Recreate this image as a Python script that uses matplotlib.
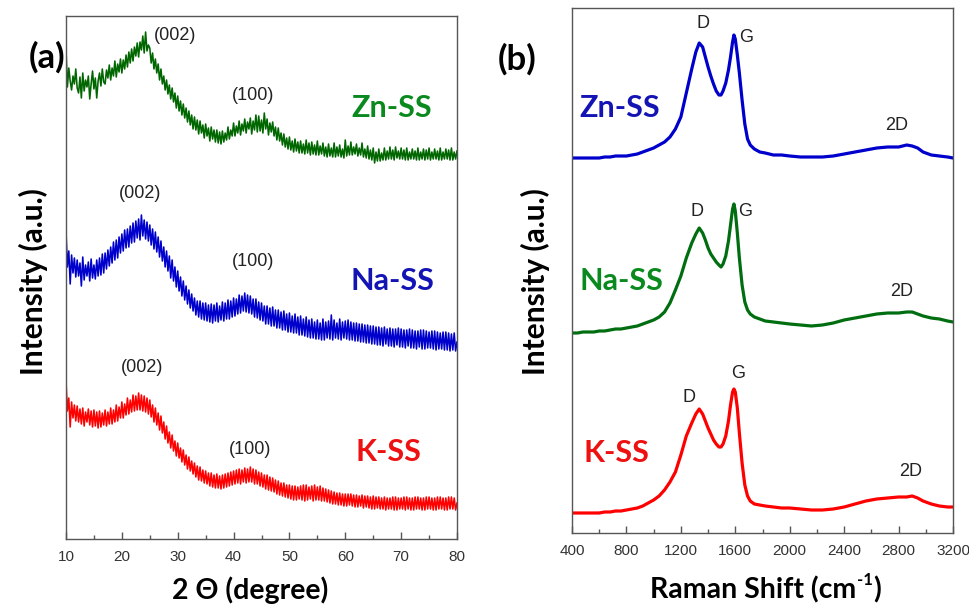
import numpy as np
import matplotlib
matplotlib.use("Agg")
import matplotlib.pyplot as plt

# ---- XRD data: 2 theta from 10 to 80 in 0.25 deg steps (offset arbitrary units) ----
two_theta = np.arange(10, 80.001, 0.25)

xrd_zn = [490, 452, 471, 458, 449, 463, 455, 470, 451, 446, 462, 441, 466, 448, 459, 452,
          463, 440, 455, 468, 450, 461, 441, 458, 466, 453, 470, 457, 455, 469, 461, 474,
          459, 471, 463, 478, 462, 475, 467, 480, 466, 479, 470, 484, 472, 487, 476, 490,
          478, 492, 483, 496, 482, 497, 489, 503, 486, 507, 488, 494, 491, 476, 486, 470,
          480, 466, 475, 459, 470, 455, 463, 449, 459, 445, 454, 440, 451, 437, 446, 431,
          443, 428, 438, 424, 435, 421, 431, 417, 428, 414, 424, 410, 422, 409, 419, 405,
          418, 406, 414, 401, 415, 403, 411, 398, 412, 400, 409, 397, 409, 396, 407, 395,
          408, 397, 406, 399, 412, 400, 409, 403, 416, 403, 413, 406, 418, 404, 415, 408,
          420, 406, 417, 410, 421, 405, 418, 409, 424, 407, 423, 408, 419, 406, 426, 410,
          420, 404, 416, 407, 417, 403, 412, 399, 411, 398, 406, 394, 405, 392, 401, 390,
          402, 389, 398, 387, 400, 388, 397, 386, 398, 386, 395, 385, 399, 386, 396, 384,
          397, 385, 394, 384, 398, 384, 393, 385, 396, 383, 392, 382, 395, 383, 391, 382,
          396, 382, 392, 383, 394, 382, 390, 381, 399, 383, 393, 384, 397, 384, 392, 385,
          395, 383, 391, 384, 396, 382, 390, 381, 393, 380, 389, 379, 391, 376, 387, 378,
          390, 378, 386, 379, 391, 379, 388, 380, 392, 380, 389, 379, 392, 381, 388, 380,
          391, 380, 389, 379, 391, 379, 387, 380, 390, 380, 388, 379, 391, 379, 387, 380,
          390, 379, 389, 380, 391, 379, 387, 380, 390, 380, 388, 379, 391, 379, 387, 380,
          390, 380, 389, 379, 391, 379, 387, 380, 388]

xrd_na = [308, 272, 288, 255, 284, 266, 281, 262, 279, 263, 276, 253, 282, 259, 274, 263,
          277, 258, 280, 261, 274, 260, 279, 263, 281, 264, 285, 266, 286, 270, 289, 273,
          292, 276, 297, 279, 299, 281, 302, 286, 305, 288, 309, 291, 310, 292, 313, 296,
          316, 297, 318, 301, 320, 299, 324, 303, 319, 300, 317, 298, 314, 294, 310, 290,
          307, 287, 302, 282, 298, 278, 292, 272, 288, 268, 283, 261, 279, 258, 272, 252,
          268, 248, 262, 243, 258, 239, 253, 235, 249, 231, 245, 228, 241, 224, 238, 222,
          238, 220, 236, 219, 236, 218, 234, 217, 235, 216, 234, 218, 236, 217, 233, 219,
          237, 218, 236, 220, 239, 220, 238, 222, 241, 223, 240, 225, 244, 226, 243, 228,
          246, 227, 244, 226, 243, 225, 240, 222, 240, 221, 237, 219, 236, 218, 233, 215,
          233, 215, 231, 213, 232, 213, 229, 211, 229, 211, 227, 209, 228, 209, 225, 207,
          226, 207, 223, 206, 225, 206, 222, 204, 223, 204, 220, 203, 222, 202, 219, 201,
          220, 201, 217, 200, 219, 200, 216, 199, 220, 199, 217, 201, 218, 200, 224, 199,
          219, 201, 216, 200, 220, 199, 217, 201, 218, 200, 219, 199, 217, 199, 216, 198,
          216, 198, 215, 197, 215, 197, 214, 196, 214, 196, 213, 195, 213, 195, 212, 194,
          212, 194, 211, 193, 212, 195, 210, 193, 211, 193, 210, 192, 210, 194, 211, 192,
          210, 192, 209, 191, 209, 193, 210, 191, 209, 191, 208, 190, 208, 192, 209, 190,
          209, 190, 208, 191, 207, 191, 208, 190, 208, 189, 207, 190, 206, 190, 207, 189,
          207, 189, 206, 188, 205, 189, 206, 188, 197]

xrd_k = [158, 128, 141, 112, 137, 121, 134, 118, 133, 117, 130, 115, 131, 113, 127, 117,
         130, 114, 128, 112, 129, 113, 127, 111, 128, 112, 126, 114, 129, 113, 127, 115,
         131, 115, 129, 117, 134, 118, 132, 121, 137, 121, 135, 124, 141, 125, 139, 127,
         144, 128, 143, 129, 146, 129, 144, 128, 143, 127, 141, 125, 139, 122, 134, 117,
         131, 114, 126, 109, 123, 106, 117, 100, 113, 96, 107, 91, 104, 88, 98, 83,
         96, 81, 91, 77, 89, 74, 84, 70, 82, 68, 78, 65, 76, 62, 73, 59,
         72, 58, 69, 56, 68, 55, 66, 53, 66, 52, 64, 51, 65, 51, 63, 50,
         64, 51, 65, 52, 66, 53, 67, 54, 68, 55, 69, 56, 70, 55, 69, 57,
         71, 56, 70, 57, 72, 57, 70, 55, 69, 55, 67, 53, 66, 52, 64, 50,
         64, 49, 62, 48, 61, 47, 59, 45, 58, 44, 56, 43, 56, 42, 54, 41,
         54, 40, 53, 39, 53, 39, 52, 40, 53, 39, 54, 38, 54, 39, 52, 40,
         53, 38, 54, 39, 52, 39, 53, 38, 51, 38, 50, 37, 49, 36, 48, 35,
         47, 35, 46, 34, 46, 34, 45, 33, 45, 33, 45, 34, 45, 33, 44, 32,
         44, 32, 43, 33, 44, 31, 43, 32, 43, 31, 42, 30, 43, 30, 42, 31,
         42, 30, 41, 30, 42, 29, 41, 30, 41, 30, 42, 29, 42, 29, 41, 30,
         41, 30, 42, 29, 42, 30, 41, 29, 41, 29, 42, 30, 42, 30, 41, 29,
         41, 29, 42, 30, 42, 30, 41, 29, 41, 29, 42, 30, 42, 30, 41, 29,
         41, 29, 42, 30, 42, 30, 41, 29, 36]

# ---- Raman data ----
raman_x = [400, 440, 480, 520, 560, 600, 640, 680, 720, 760, 800, 840, 880, 920, 960,
           1000, 1040, 1080, 1120, 1160, 1200, 1240, 1280,
           1310, 1335, 1360, 1380, 1400, 1420, 1440, 1460, 1480, 1495,
           1510, 1530, 1550, 1565, 1580, 1590, 1600, 1615, 1630, 1650,
           1670, 1690, 1710, 1740, 1780, 1820, 1880, 1940, 2000, 2080,
           2160, 2240, 2320, 2400, 2480, 2560, 2640, 2720, 2800, 2860,
           2900, 2940, 2980, 3040, 3100, 3160, 3200]
raman_zn = [375, 375, 375, 375, 375, 375, 376, 376, 377, 377, 377, 378, 379, 381, 383,
            385, 388, 391, 396, 404, 416, 440, 464,
            481, 490, 486, 476, 466, 457, 449, 442, 438, 438,
            442, 450, 463, 476, 491, 498, 494, 478, 460, 433,
            409, 394, 388, 384, 381, 380, 378, 378, 377, 376,
            376, 376, 377, 379, 381, 383, 385, 386, 386, 388,
            387, 385, 381, 378, 377, 376, 375]
raman_na = [200, 200, 201, 201, 201, 202, 202, 203, 204, 204, 205, 206, 207, 209, 211,
            213, 216, 221, 230, 243, 257, 275, 290,
            299, 305, 300, 293, 285, 279, 275, 271, 268, 266,
            269, 277, 292, 308, 324, 329, 322, 300, 275, 248,
            231, 223, 219, 216, 214, 212, 211, 210, 209, 208,
            207, 208, 210, 213, 215, 217, 219, 220, 220, 221,
            221, 219, 217, 215, 214, 212, 211]
raman_k = [20, 20, 20, 20, 20, 20, 21, 21, 22, 22, 23, 24, 25, 27, 30,
           33, 37, 43, 51, 61, 78, 97, 110,
           119, 124, 119, 112, 105, 99, 93, 89, 86, 86,
           89, 97, 112, 128, 141, 144, 141, 125, 100, 70,
           48, 37, 32, 29, 28, 27, 26, 25, 25, 24,
           23, 23, 24, 26, 29, 32, 34, 35, 36, 36,
           37, 35, 32, 29, 27, 26, 26]

W, H = 969, 607
fig = plt.figure(figsize=(W / 100, H / 100), dpi=100)


def px(x, y):
    return x / W, 1 - y / H


tick_font = dict(family="Liberation Sans", size=11, color="#333333")
lab_font = dict(family="Lato", weight="bold", size=20.5)

# ---------- (a) XRD ----------
ax1 = fig.add_axes([66 / W, 1 - 539 / H, 391 / W, 523 / H])
ax1.plot(two_theta, xrd_zn, color="#006600", lw=1.15)
ax1.plot(two_theta, xrd_na, color="#0000cc", lw=1.15)
ax1.plot(two_theta, xrd_k, color="#ff0000", lw=1.15)
ax1.set_xlim(10, 80)
ax1.set_ylim(0, 523)
ax1.set_xticks(np.arange(10, 81, 10))
ax1.set_xticks(np.arange(15, 80, 10), minor=True)
ax1.set_yticks([])

# ---------- (b) Raman ----------
ax2 = fig.add_axes([572 / W, 1 - 533 / H, 381 / W, 525 / H])
ax2.plot(raman_x, raman_zn, color="#0000cc", lw=2.3)
ax2.plot(raman_x, raman_na, color="#006e10", lw=2.3)
ax2.plot(raman_x, raman_k, color="#ff0000", lw=2.3)
ax2.set_xlim(400, 3200)
ax2.set_ylim(0, 525)
ax2.set_xticks(np.arange(400, 3201, 400))
ax2.set_xticks(np.arange(600, 3200, 400), minor=True)
ax2.set_yticks([])

for ax in (ax1, ax2):
    for s in ax.spines.values():
        s.set_color("#555555")
        s.set_linewidth(1.0)
    ax.tick_params(axis="x", which="major", direction="in", length=5, width=1,
                   color="#555555", pad=8)
    ax.tick_params(axis="x", which="minor", direction="in", length=3, width=1,
                   color="#555555")
    for t in ax.get_xticklabels():
        t.set_fontfamily(tick_font["family"])
        t.set_fontsize(tick_font["size"])
        t.set_color(tick_font["color"])

# axis labels
fig.text(*px(250, 590), "2 \u0398 (degree)", ha="center", va="center", **lab_font)
fig.text(*px(33, 282), "Intensity (a.u.)", ha="center", va="center", rotation=90,
         family="Lato", weight="bold", size=21.5)
fig.text(*px(535, 282), "Intensity (a.u.)", ha="center", va="center", rotation=90,
         family="Lato", weight="bold", size=21.5)

# Raman label with a hyphen superscript, built from three pieces
r = fig.canvas.get_renderer()
t1 = fig.text(0, 0, "Raman Shift (cm", ha="left", va="center", **lab_font)
t2 = fig.text(0, 0, "-1", ha="left", va="center", family="Lato", weight="bold", size=12)
t3 = fig.text(0, 0, ")", ha="left", va="center", **lab_font)
w1 = t1.get_window_extent(r).width
w2 = t2.get_window_extent(r).width
w3 = t3.get_window_extent(r).width
x0 = 765 - (w1 + w2 + w3) / 2
t1.set_position(px(x0, 590))
t2.set_position(px(x0 + w1 + 1, 580))
t3.set_position(px(x0 + w1 + w2 + 1, 590))

# panel letters
fig.text(*px(47, 57), "(a)", ha="center", va="center", family="Lato", weight="bold", size=25)
fig.text(*px(517, 59), "(b)", ha="center", va="center", family="Lato", weight="bold", size=25)

# sample names
name_font = dict(family="Lato", weight="bold", size=22, ha="center", va="center")
fig.text(*px(392, 108), "Zn-SS", color="#0a8a1e", **name_font)
fig.text(*px(392, 281), "Na-SS", color="#1414b4", **name_font)
fig.text(*px(388, 452), "K-SS", color="#ee1111", **name_font)
fig.text(*px(620, 108), "Zn-SS", color="#1414b4", **name_font)
fig.text(*px(621, 281), "Na-SS", color="#0a8a1e", **name_font)
fig.text(*px(616, 453), "K-SS", color="#ee1111", **name_font)

# peak labels
pk = dict(family="Liberation Sans", size=13, color="#222222", ha="center", va="center")
for (x, y, s) in [(175, 35, "(002)"), (253, 95, "(100)"), (140, 193, "(002)"),
                  (253, 261, "(100)"), (142, 368, "(002)"), (250, 449, "(100)"),
                  (703, 24, "D"), (746, 37, "G"), (897, 125, "2D"),
                  (697, 212, "D"), (745, 211, "G"), (902, 292, "2D"),
                  (689, 398, "D"), (738, 374, "G"), (911, 471, "2D")]:
    fig.text(*px(x, y), s, **pk)

fig.savefig("out.png", dpi=100)
